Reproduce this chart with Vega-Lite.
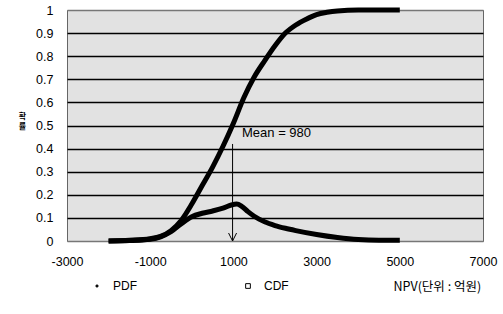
{
  "$schema": "https://vega.github.io/schema/vega-lite/v6.json",
  "width": 416,
  "height": 231,
  "autosize": "none",
  "padding": {"left": 67, "top": 10, "right": 20, "bottom": 73},
  "background": "white",
  "config": {
    "font": "Liberation Sans",
    "view": {"fill": "#e2e2e2", "stroke": "#666666", "strokeWidth": 1}
  },
  "datasets": {
    "curves": [
      {"series": "CDF", "x": -2000, "y": 0},
      {"series": "CDF", "x": -1500, "y": 0.003},
      {"series": "CDF", "x": -1000, "y": 0.01},
      {"series": "CDF", "x": -750, "y": 0.02},
      {"series": "CDF", "x": -500, "y": 0.045},
      {"series": "CDF", "x": -250, "y": 0.09},
      {"series": "CDF", "x": 0, "y": 0.16},
      {"series": "CDF", "x": 250, "y": 0.24},
      {"series": "CDF", "x": 500, "y": 0.32},
      {"series": "CDF", "x": 750, "y": 0.41},
      {"series": "CDF", "x": 1000, "y": 0.51},
      {"series": "CDF", "x": 1250, "y": 0.62},
      {"series": "CDF", "x": 1500, "y": 0.71},
      {"series": "CDF", "x": 1750, "y": 0.78},
      {"series": "CDF", "x": 2000, "y": 0.845},
      {"series": "CDF", "x": 2250, "y": 0.9},
      {"series": "CDF", "x": 2500, "y": 0.935},
      {"series": "CDF", "x": 2750, "y": 0.96},
      {"series": "CDF", "x": 3000, "y": 0.98},
      {"series": "CDF", "x": 3250, "y": 0.99},
      {"series": "CDF", "x": 3500, "y": 0.996},
      {"series": "CDF", "x": 4000, "y": 1.0},
      {"series": "CDF", "x": 4500, "y": 1.0},
      {"series": "CDF", "x": 5000, "y": 1.0},
      {"series": "PDF", "x": -2000, "y": 0},
      {"series": "PDF", "x": -1500, "y": 0.002},
      {"series": "PDF", "x": -1000, "y": 0.008},
      {"series": "PDF", "x": -750, "y": 0.018},
      {"series": "PDF", "x": -500, "y": 0.04},
      {"series": "PDF", "x": -250, "y": 0.075},
      {"series": "PDF", "x": 0, "y": 0.105},
      {"series": "PDF", "x": 250, "y": 0.12},
      {"series": "PDF", "x": 500, "y": 0.13},
      {"series": "PDF", "x": 750, "y": 0.142},
      {"series": "PDF", "x": 950, "y": 0.156},
      {"series": "PDF", "x": 1080, "y": 0.16},
      {"series": "PDF", "x": 1200, "y": 0.15},
      {"series": "PDF", "x": 1350, "y": 0.127},
      {"series": "PDF", "x": 1500, "y": 0.107},
      {"series": "PDF", "x": 1750, "y": 0.083},
      {"series": "PDF", "x": 2000, "y": 0.067},
      {"series": "PDF", "x": 2250, "y": 0.055},
      {"series": "PDF", "x": 2500, "y": 0.045},
      {"series": "PDF", "x": 3000, "y": 0.028},
      {"series": "PDF", "x": 3500, "y": 0.015},
      {"series": "PDF", "x": 4000, "y": 0.006},
      {"series": "PDF", "x": 4500, "y": 0.003},
      {"series": "PDF", "x": 5000, "y": 0.003}
    ],
    "arrow": [{"x": 980, "y": 0.42, "y2": 0}],
    "tip": [{"x": 980, "y": 0}],
    "note": [{"x": 1207, "y": 0.467, "label": "Mean = 980"}]
  },
  "encoding": {
    "x": {
      "field": "x",
      "type": "quantitative",
      "scale": {"domain": [-3000, 7000], "nice": false, "zero": false},
      "axis": {
        "values": [-3000, -1000, 1000, 3000, 5000, 7000],
        "labelExpr": "datum.value < 0 ? '-' + (-datum.value) : '' + datum.value",
        "labelFontSize": 12.5,
        "labelColor": "black",
        "labelPadding": 14,
        "ticks": false,
        "domain": false,
        "grid": false,
        "labelFlush": false,
        "title": "NPV(단위 : 억원)",
        "titleFont": "Noto Sans CJK KR",
        "titleFontSize": 12.5,
        "titleFontWeight": "normal",
        "titleColor": "black",
        "titleAnchor": "start",
        "titleAlign": "left",
        "titleBaseline": "middle",
        "titleX": 326,
        "titleY": 45
      }
    },
    "y": {
      "field": "y",
      "type": "quantitative",
      "scale": {"domain": [0, 1], "nice": false},
      "axis": {
        "values": [0, 0.1, 0.2, 0.3, 0.4, 0.5, 0.6, 0.7, 0.8, 0.9, 1],
        "labelExpr": "format(datum.value, '.1~f')",
        "labelFontSize": 12.5,
        "labelColor": "black",
        "labelPadding": 14,
        "ticks": false,
        "domain": false,
        "grid": true,
        "gridColor": {"condition": {"test": "datum.value == 0 || datum.value == 1", "value": "#777777"}, "value": "black"},
        "gridWidth": 1.4,
        "gridOpacity": 1,
        "title": ["확", "률"],
        "titleFont": "Noto Sans CJK KR",
        "titleFontSize": 8,
        "titleFontWeight": "bold",
        "titleColor": "black",
        "titleAngle": 0,
        "titleAlign": "center",
        "titleBaseline": "middle",
        "titleX": -45,
        "titleY": 106,
        "titleLineHeight": 10
      }
    }
  },
  "layer": [
    {
      "data": {"name": "curves"},
      "mark": {"type": "line", "color": "black", "strokeWidth": 5, "interpolate": "monotone"},
      "encoding": {"detail": {"field": "series"}}
    },
    {
      "data": {"name": "curves"},
      "mark": {"type": "point", "opacity": 0, "stroke": "black", "strokeWidth": 1},
      "encoding": {
        "shape": {
          "field": "series", "type": "nominal",
          "scale": {"domain": ["PDF", "CDF"], "range": ["circle", "square"]},
          "legend": {"orient": "none", "legendX": 24, "legendY": 270, "direction": "horizontal", "title": null, "labelFontSize": 12, "labelColor": "black", "labelOffset": 10, "columnPadding": 105, "symbolOpacity": 1, "symbolStrokeColor": "black", "symbolStrokeWidth": 1, "encode": {"symbols": {"update": {"stroke": {"value": "black"}, "strokeWidth": {"value": 1}, "opacity": {"value": 1}, "strokeOpacity": {"value": 1}}}}}
        },
        "fill": {
          "field": "series", "type": "nominal",
          "scale": {"domain": ["PDF", "CDF"], "range": ["black", "white"]},
          "legend": {"orient": "none", "legendX": 24, "legendY": 270, "direction": "horizontal", "title": null, "labelFontSize": 12, "labelColor": "black", "labelOffset": 10, "columnPadding": 105, "symbolOpacity": 1, "symbolStrokeColor": "black", "symbolStrokeWidth": 1, "encode": {"symbols": {"update": {"stroke": {"value": "black"}, "strokeWidth": {"value": 1}, "opacity": {"value": 1}, "strokeOpacity": {"value": 1}}}}}
        },
        "size": {
          "field": "series", "type": "nominal",
          "scale": {"domain": ["PDF", "CDF"], "range": [5, 22]},
          "legend": {"orient": "none", "legendX": 24, "legendY": 270, "direction": "horizontal", "title": null, "labelFontSize": 12, "labelColor": "black", "labelOffset": 10, "columnPadding": 105, "symbolOpacity": 1, "symbolStrokeColor": "black", "symbolStrokeWidth": 1, "encode": {"symbols": {"update": {"stroke": {"value": "black"}, "strokeWidth": {"value": 1}, "opacity": {"value": 1}, "strokeOpacity": {"value": 1}}}}}
        }
      }
    },
    {
      "data": {"name": "arrow"},
      "mark": {"type": "rule", "color": "black", "strokeWidth": 1},
      "encoding": {"y2": {"field": "y2"}}
    },
    {
      "data": {"name": "tip"},
      "mark": {"type": "point", "shape": "M-1,-2L0,0L1,-2", "filled": false, "stroke": "black", "strokeWidth": 1, "size": 64, "opacity": 1}
    },
    {
      "data": {"name": "note"},
      "mark": {"type": "text", "align": "left", "baseline": "middle", "fontSize": 13, "color": "black", "font": "Liberation Sans"},
      "encoding": {"text": {"field": "label"}}
    }
  ]
}
